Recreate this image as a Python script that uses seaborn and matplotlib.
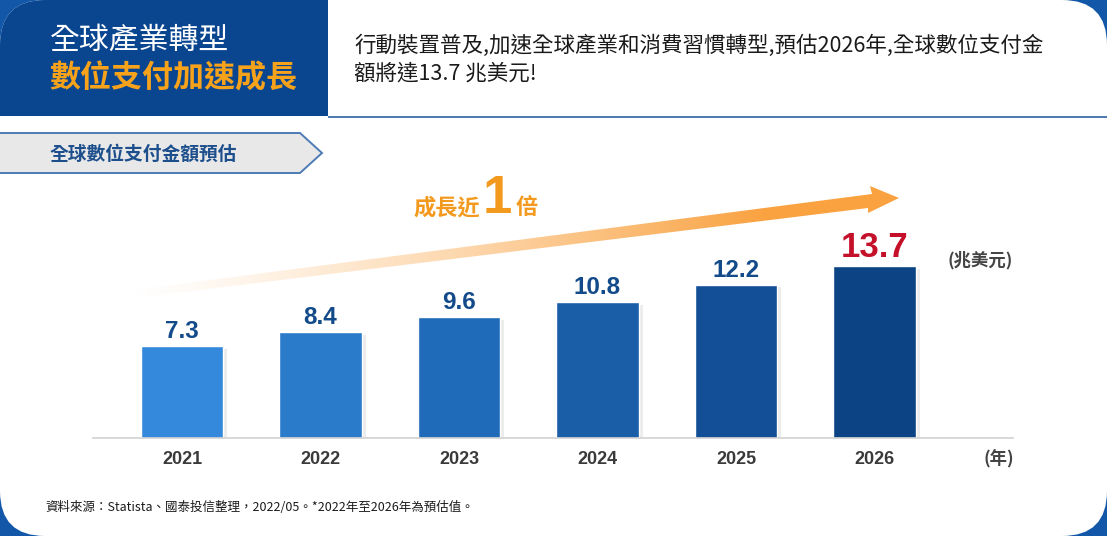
import numpy as np
import pandas as pd
import matplotlib
matplotlib.use("Agg")
import matplotlib.pyplot as plt
import seaborn as sns
from matplotlib.patches import FancyBboxPatch, Rectangle, Polygon
from matplotlib import patheffects as pe

# ---- data ----
years = ["2021", "2022", "2023", "2024", "2025", "2026"]
values = [7.3, 8.4, 9.6, 10.8, 12.2, 13.7]
value_labels = ["7.3", "8.4", "9.6", "10.8", "12.2", "13.7"]
bar_colors = ["#3589dc", "#2a7bc9", "#1f6bb9", "#1a5ea8", "#124f97", "#0b4384"]

title1 = "全球產業轉型"
title2 = "數位支付加速成長"
headline = ["行動裝置普及,加速全球產業和消費習慣轉型,預估2026年,全球數位支付金",
            "額將達13.7 兆美元!"]
tag_text = "全球數位支付金額預估"
unit_text = "(兆美元)"
year_unit = "(年)"
footer = "資料來源：Statista、國泰投信整理，2022/05。*2022年至2026年為預估值。"

sns.set_style("white")
CJK = ["Noto Sans CJK TC", "DejaVu Sans"]
NUM = ["Liberation Sans", "Noto Sans CJK TC"]
plt.rcParams["font.family"] = CJK

W, H = 1107, 536
fig = plt.figure(figsize=(W / 100, H / 100), dpi=100)
fig.patch.set_facecolor("#1257a8")

# ---- background / decoration axes (pixel coordinates) ----
bg = fig.add_axes([0, 0, 1, 1], zorder=0)
bg.set_xlim(0, W)
bg.set_ylim(H, 0)
bg.axis("off")

card = FancyBboxPatch((0, 0), W, H, boxstyle="round,pad=0,rounding_size=45",
                      facecolor="white", edgecolor="none", zorder=1)
bg.add_patch(card)

hdr_col = "#0a4690"
bg.add_patch(FancyBboxPatch((0, 0), 328, 116, boxstyle="round,pad=0,rounding_size=45",
                            facecolor=hdr_col, edgecolor="none", zorder=1.1))
bg.add_patch(Rectangle((45, 0), 283, 116, facecolor=hdr_col, edgecolor="none", zorder=1.1))
bg.add_patch(Rectangle((0, 45), 328, 71, facecolor=hdr_col, edgecolor="none", zorder=1.1))
bg.plot([328, W], [116.5, 116.5], color="#4b78b0", lw=1.4, solid_capstyle="butt", zorder=1.2)

bg.text(50, 40, title1, color="white", fontsize=21.5, va="center", ha="left", zorder=4)
bg.text(49, 78, title2, color="#f7a21b", fontsize=22.3, fontweight="bold",
        va="center", ha="left", zorder=4)
bg.text(354, 46, headline[0], color="#1a1a1a", fontsize=15.5, va="center", ha="left", zorder=4)
bg.text(354, 74, headline[1], color="#1a1a1a", fontsize=15.5, va="center", ha="left", zorder=4)

# tag shape
tag = Polygon([(-2, 133), (300, 133), (322, 153), (300, 173), (-2, 173)], closed=True,
              facecolor="#e8e8e9", edgecolor="#4d7bb5", lw=1.4, zorder=1.3)
bg.add_patch(tag)
bg.text(50, 154, tag_text, color="#1d4f8c", fontsize=13.5, fontweight="bold",
        va="center", ha="left", zorder=4)

# gradient arrow
arrow_poly = Polygon([(110, 293), (872, 194), (870, 186), (899, 198), (868, 213),
                      (868, 208), (110, 301)], closed=True, facecolor="none",
                     edgecolor="none", zorder=1.4)
bg.add_patch(arrow_poly)
xs = np.linspace(100, 905, 400)
alpha = np.clip((xs - 125) / 640.0, 0, 1) ** 1.3
img = np.zeros((10, xs.size, 4))
img[..., 0] = 250 / 255
img[..., 1] = 162 / 255
img[..., 2] = 64 / 255
img[..., 3] = alpha[None, :]
im = bg.imshow(img, extent=(100, 905, 310, 175), origin="upper", aspect="auto",
               interpolation="bilinear", zorder=2)
im.set_clip_path(arrow_poly)
bg.set_xlim(0, W)
bg.set_ylim(H, 0)

orange = "#f39a1e"
bg.text(413, 208, "成長近", color=orange, fontsize=16, fontweight="bold",
        va="center", ha="left", zorder=4)
bg.text(483, 213, "1", color=orange, fontsize=38, fontweight="bold",
        va="baseline", ha="left", family=NUM, zorder=4)
bg.text(516, 208, "倍", color=orange, fontsize=16, fontweight="bold",
        va="center", ha="left", zorder=4)

bg.text(980, 260, unit_text, color="#444444", fontsize=12.5, fontweight="bold",
        va="center", ha="center", zorder=4)
bg.text(999, 459, year_unit, color="#444444", fontsize=12.5, fontweight="bold",
        va="center", ha="center", zorder=4)
bg.text(45, 507, footer, color="#1a1a1a", fontsize=9, va="center", ha="left", zorder=4)

# ---- bar chart axes ----
px_per_unit = 12.57
ax = fig.add_axes([93 / W, (H - 438) / H, 920 / W, 16 * px_per_unit / H], zorder=2)
ax.patch.set_alpha(0)
df = pd.DataFrame({"year": years, "value": values})
sns.barplot(data=df, x="year", y="value", hue="year", palette=bar_colors,
            legend=False, width=0.595, ax=ax, saturation=1)
for p in ax.patches:
    p.set_path_effects([pe.SimplePatchShadow(offset=(3, -2), shadow_rgbFace="#999999",
                                             alpha=0.18), pe.Normal()])
ax.set_xlim(-0.643, 6.0)
ax.set_ylim(0, 16)
for s in ["top", "right", "left"]:
    ax.spines[s].set_visible(False)
ax.spines["bottom"].set_color("#d2d2d2")
ax.spines["bottom"].set_linewidth(1.2)
ax.set_yticks([])
ax.set_xlabel("")
ax.set_ylabel("")
ax.tick_params(axis="x", length=0, pad=9.5)
for lab in ax.get_xticklabels():
    lab.set_fontfamily(NUM)
    lab.set_fontweight("bold")
    lab.set_fontsize(13)
    lab.set_color("#3a3a3a")

for i, (v, t) in enumerate(zip(values, value_labels)):
    last = i == len(values) - 1
    ax.annotate(t, (i, v), xytext=(0, 6.5 if last else 5.8), textcoords="offset points",
                ha="center", va="baseline", family=NUM, fontweight="bold",
                fontsize=25 if last else 17.5,
                color="#c5102a" if last else "#124a8a")

fig.savefig("out.png", dpi=100, facecolor=fig.get_facecolor())
